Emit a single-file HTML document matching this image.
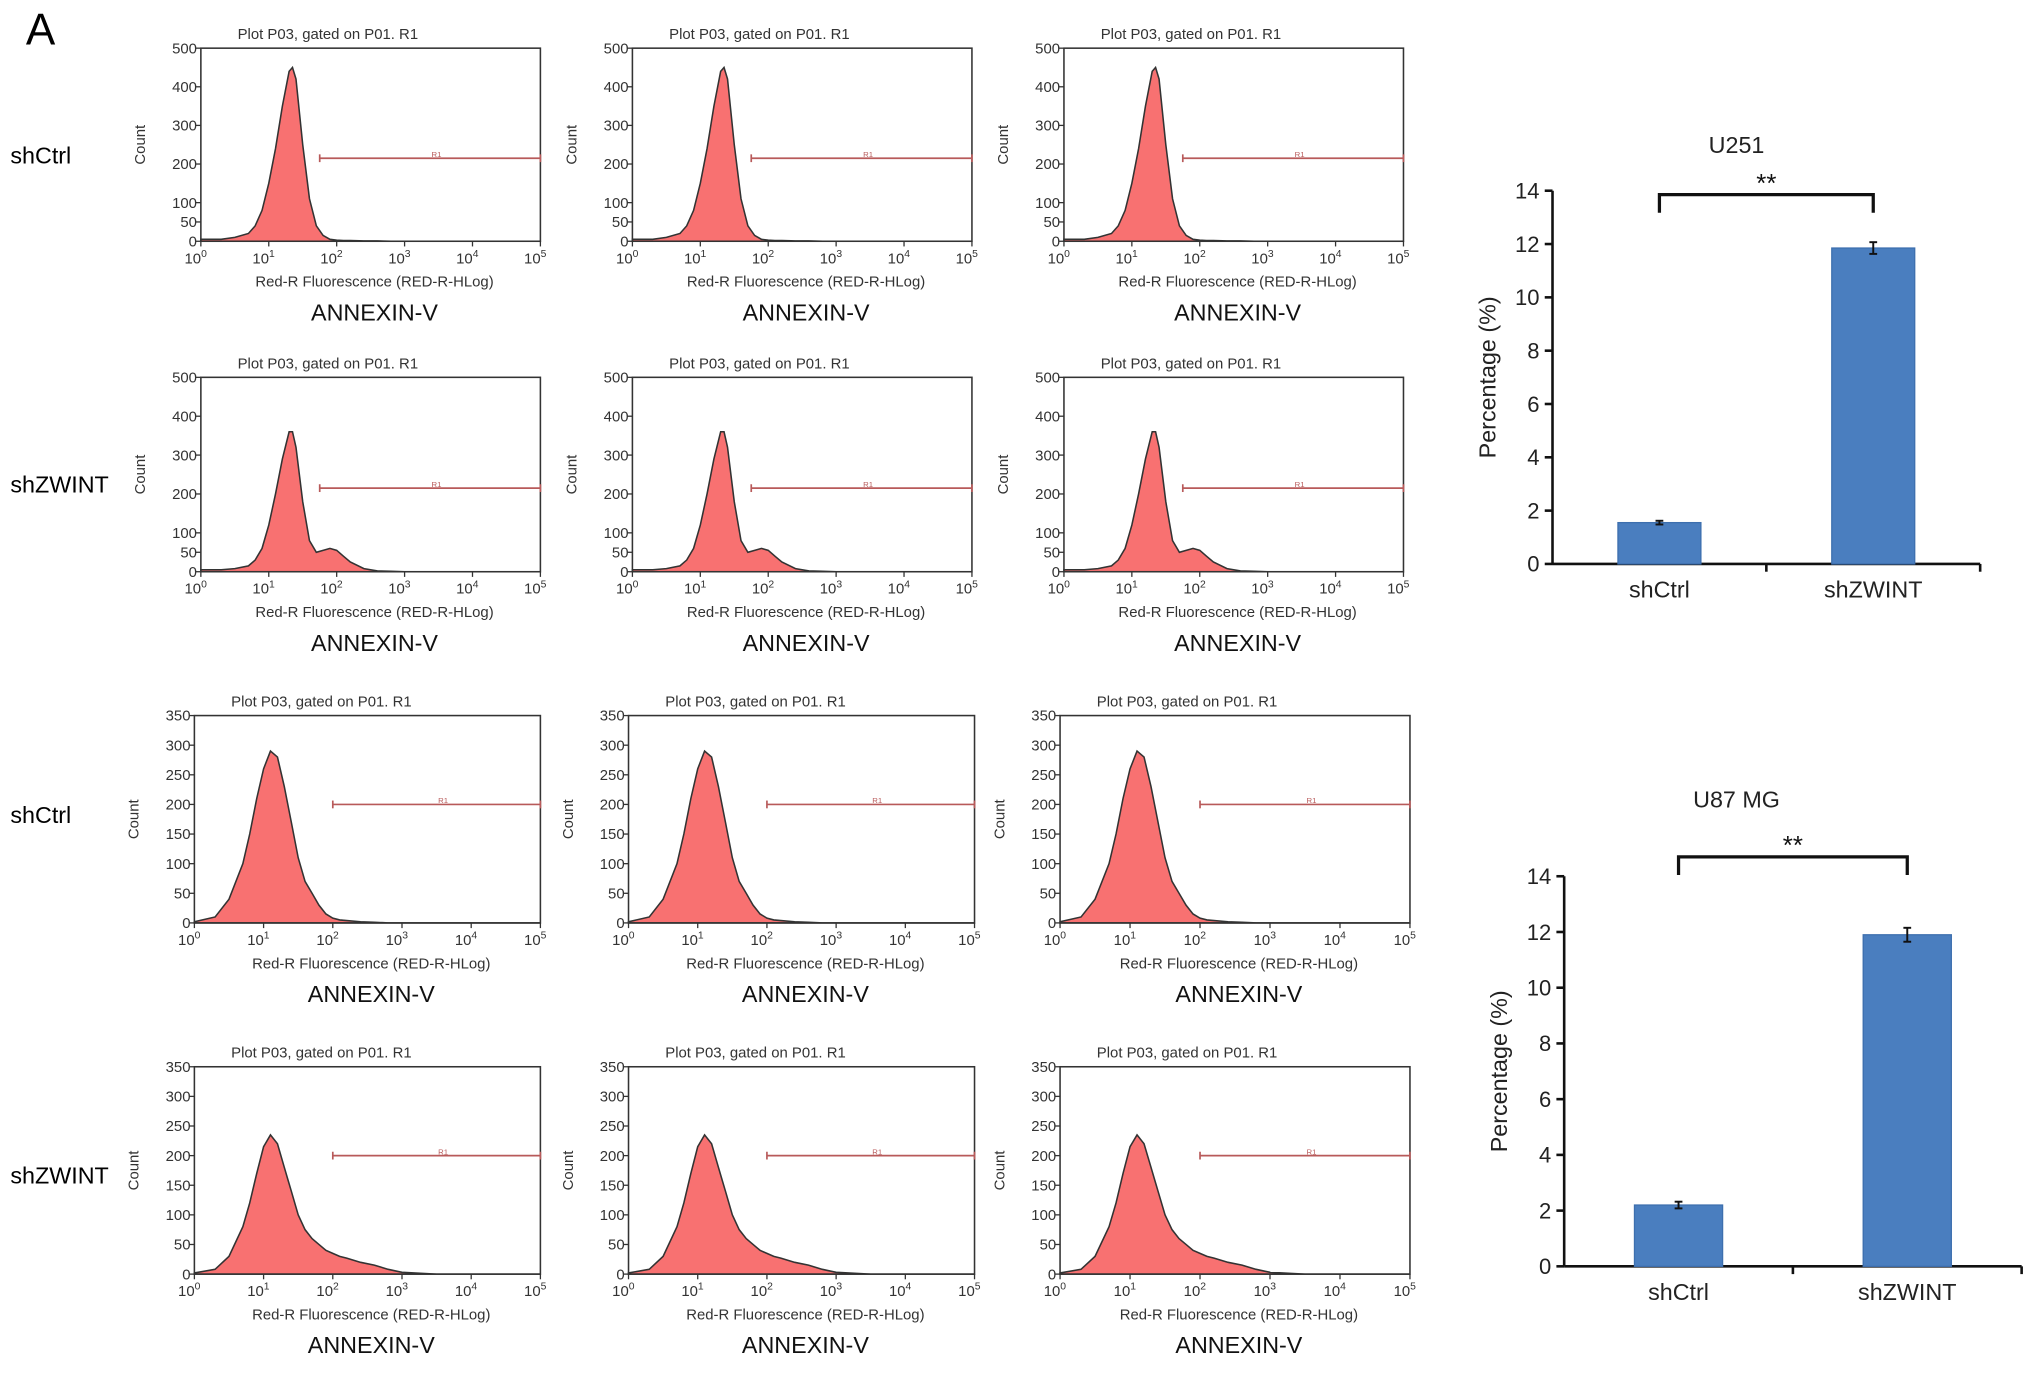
<!DOCTYPE html>
<html><head><meta charset="utf-8"><style>
html,body{margin:0;padding:0;background:#fff;}
svg{display:block;font-family:"Liberation Sans",Arial,sans-serif;}
</style></head><body>
<svg id="fig" width="2032" height="1378" viewBox="0 0 1568 1063" xmlns="http://www.w3.org/2000/svg">
<text x="20" y="34" font-size="34">A</text>
</svg>
<script>
// ---- histogram data ----
const logX = [0,0.3,0.5,0.7,0.8,0.9,1.0,1.1,1.2,1.3,1.35,1.4,1.5,1.6,1.7,1.8,1.9,2.0,2.1,2.2,2.4,2.6,2.8,3.0,3.5,5];
const countsU251Ctrl   = [5,5,10,20,40,80,150,240,350,440,450,420,250,110,40,15,5,3,2,2,1,1,0,0,0,0];
const countsU251ZWINT  = [5,5,8,15,30,60,120,200,290,360,360,320,180,80,50,55,60,55,40,25,8,2,1,0,0,0];
const countsU87Ctrl    = [2,10,40,100,150,210,260,290,280,230,200,170,110,70,50,30,15,8,5,4,2,1,0,0,0,0];
const countsU87ZWINT   = [2,8,30,80,120,170,215,235,220,180,160,140,100,75,60,50,40,35,30,27,20,15,8,3,0,0];
const rowSeries = [countsU251Ctrl,countsU251ZWINT,countsU87Ctrl,countsU87ZWINT];
const rowNames = ["shCtrl","shZWINT","shCtrl","shZWINT"];
const rowYMax = [500,500,350,350];
const rowYTicks = [[0,50,100,200,300,400,500],[0,50,100,200,300,400,500],[0,50,100,150,200,250,300,350],[0,50,100,150,200,250,300,350]];
const rowGate = [[1.75,215],[1.75,215],[2.0,200],[2.0,200]];
const xTickExp = [0,1,2,3,4,5];

// ---- bar chart data ----
const barCategories = ["shCtrl","shZWINT"];
const barU251 = [1.55,11.85];
const errU251 = [0.07,0.22];
const barU87 = [2.2,11.9];
const errU87 = [0.12,0.25];
const barTicks = [0,2,4,6,8,10,12,14];

const NS="http://www.w3.org/2000/svg";
const svg=document.getElementById('fig');
function mk(tag,attrs,parent,text){const e=document.createElementNS(NS,tag);for(const k in attrs)e.setAttribute(k,attrs[k]);if(text!==undefined)e.textContent=text;(parent||svg).appendChild(e);return e;}

const rowBox=[[37,186],[291,441],[552,712],[823,983]];
const colBoxA=[[155,417],[488,750],[821,1083]];
const colBoxB=[[150,417],[485,752],[818,1088]];
const rowLabelY=[120,374,629,907];

for(let r=0;r<4;r++){
  const [top,bot]=rowBox[r];
  const lbl=mk('text',{x:8,y:rowLabelY[r]+6,'font-size':18},svg,rowNames[r]);
  
  
  for(let c=0;c<3;c++){
    const [L,R]=(r<2?colBoxA:colBoxB)[c];
    const g=mk('g',{});
    
    
    const xs=v=>L+(R-L)*v/5;
    const ys=v=>bot-(bot-top)*v/rowYMax[r];
    const data=rowSeries[r];
    let d='M'+xs(logX[0])+','+ys(0);
    for(let i=0;i<logX.length;i++) d+=' L'+xs(logX[i]).toFixed(1)+','+ys(data[i]).toFixed(1);
    d+=' L'+xs(5)+','+ys(0)+' Z';
    const p=mk('path',{d:d,fill:'#f87171','stroke':'#333','stroke-width':1.2},g);
    
    
    mk('rect',{x:L,y:top,width:R-L,height:bot-top,fill:'none',stroke:'#333','stroke-width':1.2},g);
    // y ticks
    rowYTicks[r].forEach(t=>{
      const y=ys(t);
      mk('line',{x1:L-4,x2:L,y1:y,y2:y,stroke:'#333'},g);
      const tl=mk('text',{x:L-3,y:y+4,'font-size':11.5,'text-anchor':'end',fill:'#333'},g,String(t));
      
      
    });
    xTickExp.forEach(t=>{
      const x=xs(t);
      mk('line',{x1:x,x2:x,y1:bot,y2:bot+4,stroke:'#333'},g);
      const tl=mk('text',{x:x-4,y:bot+17,'font-size':11.5,'text-anchor':'middle',fill:'#333'},g,'10');
      
      
      mk('tspan',{dy:-5,'font-size':8},tl,String(t));
    });
    const cx=(L+R)/2;
    const t1=mk('text',{x:L+98,y:top-7,'font-size':11.5,'text-anchor':'middle',fill:'#333'},g,'Plot P03, gated on P01. R1');
    
    
    const t2=mk('text',{x:cx+3,y:bot+35,'font-size':11.5,'text-anchor':'middle',fill:'#333'},g,'Red-R Fluorescence (RED-R-HLog)');
    
    
    const t3=mk('text',{x:cx+3,y:bot+61,'font-size':18,'text-anchor':'middle',fill:'#111'},g,'ANNEXIN-V');
    
    
    const my=(top+bot)/2;
    const t4=mk('text',{x:L-43,y:my,'font-size':11.5,'text-anchor':'middle',fill:'#333',transform:'rotate(-90 '+(L-43)+' '+my+')'},g,'Count');
    
    
    // gate
    const gx=xs(rowGate[r][0]),gy=ys(rowGate[r][1]);
    const gl=mk('line',{x1:gx,x2:R,y1:gy,y2:gy,stroke:'#b85a5a','stroke-width':1.3},g);
    
    
    mk('line',{x1:gx,x2:gx,y1:gy-3,y2:gy+3,stroke:'#b85a5a','stroke-width':1.3},g);
    mk('line',{x1:R,x2:R,y1:gy-3,y2:gy+3,stroke:'#b85a5a','stroke-width':1.3},g);
    mk('text',{x:(gx+R)/2+5,y:gy-1,'font-size':6,'text-anchor':'middle',fill:'#b85a5a'},g,'R1');
  }
}

function barChart(cfg){
  const g=mk('g',{});
  
  
  const {ax,top,bot,right}=cfg;
  const ys=v=>bot-(bot-top)*v/14;
  mk('line',{x1:ax,x2:ax,y1:top,y2:bot,stroke:'#111','stroke-width':2},g);
  mk('line',{x1:ax,x2:right,y1:bot,y2:bot,stroke:'#111','stroke-width':2},g);
  mk('line',{x1:(ax+right)/2,x2:(ax+right)/2,y1:bot,y2:bot+6,stroke:'#111','stroke-width':2},g);
  mk('line',{x1:right,x2:right,y1:bot,y2:bot+6,stroke:'#111','stroke-width':2},g);
  barTicks.forEach(t=>{
    const y=ys(t);
    mk('line',{x1:ax-6,x2:ax,y1:y,y2:y,stroke:'#111','stroke-width':2},g);
    const tl=mk('text',{x:ax-10,y:y+6,'font-size':17,'text-anchor':'end',fill:'#222'},g,String(t));
    
    
  });
  const slot=(right-ax)/2;
  cfg.vals.forEach((v,i)=>{
    const cx=ax+slot*(i+0.5);
    const b=mk('rect',{x:cx-cfg.bw/2,y:ys(v),width:cfg.bw,height:bot-ys(v),fill:'#4a7ebf',stroke:'#3d6fae'},g);
    
    
    const e=cfg.errs[i];
    mk('line',{x1:cx,x2:cx,y1:ys(v+e),y2:ys(v-e),stroke:'#111','stroke-width':1.5},g);
    mk('line',{x1:cx-3,x2:cx+3,y1:ys(v+e),y2:ys(v+e),stroke:'#111','stroke-width':1.5},g);
    mk('line',{x1:cx-3,x2:cx+3,y1:ys(v-e),y2:ys(v-e),stroke:'#111','stroke-width':1.5},g);
    const cl=mk('text',{x:cx,y:bot+26,'font-size':18,'text-anchor':'middle',fill:'#222'},g,barCategories[i]);
    
    
  });
  const b1=ax+slot*0.5,b2=ax+slot*1.5;
  const br=mk('path',{d:`M${b1},${cfg.bry+14} V${cfg.bry} H${b2} V${cfg.bry+14}`,fill:'none',stroke:'#111','stroke-width':2.5},g);
  
  
  const st=mk('text',{x:(b1+b2)/2,y:cfg.bry-2,'font-size':20,'text-anchor':'middle',fill:'#111'},g,'**');
  
  
  const tt=mk('text',{x:cfg.tx,y:cfg.ty,'font-size':18,'text-anchor':'middle',fill:'#222'},g,cfg.title);
  
  
  const yl=(top+bot)/2, yx=ax-44;
  const yt=mk('text',{x:yx,y:yl,'font-size':18,'text-anchor':'middle',fill:'#222',transform:`rotate(-90 ${yx} ${yl})`},g,'Percentage (%)');
  
  
}
barChart({name:'bar-chart-u251',ax:1198,top:147,bot:435,right:1528,bw:64,vals:barU251,errs:errU251,bry:150,title:'U251',tx:1340,ty:118});
barChart({name:'bar-chart-u87',ax:1207,top:676,bot:977,right:1560,bw:68,vals:barU87,errs:errU87,bry:661,title:'U87 MG',tx:1340,ty:623});
</script>
</body></html>
